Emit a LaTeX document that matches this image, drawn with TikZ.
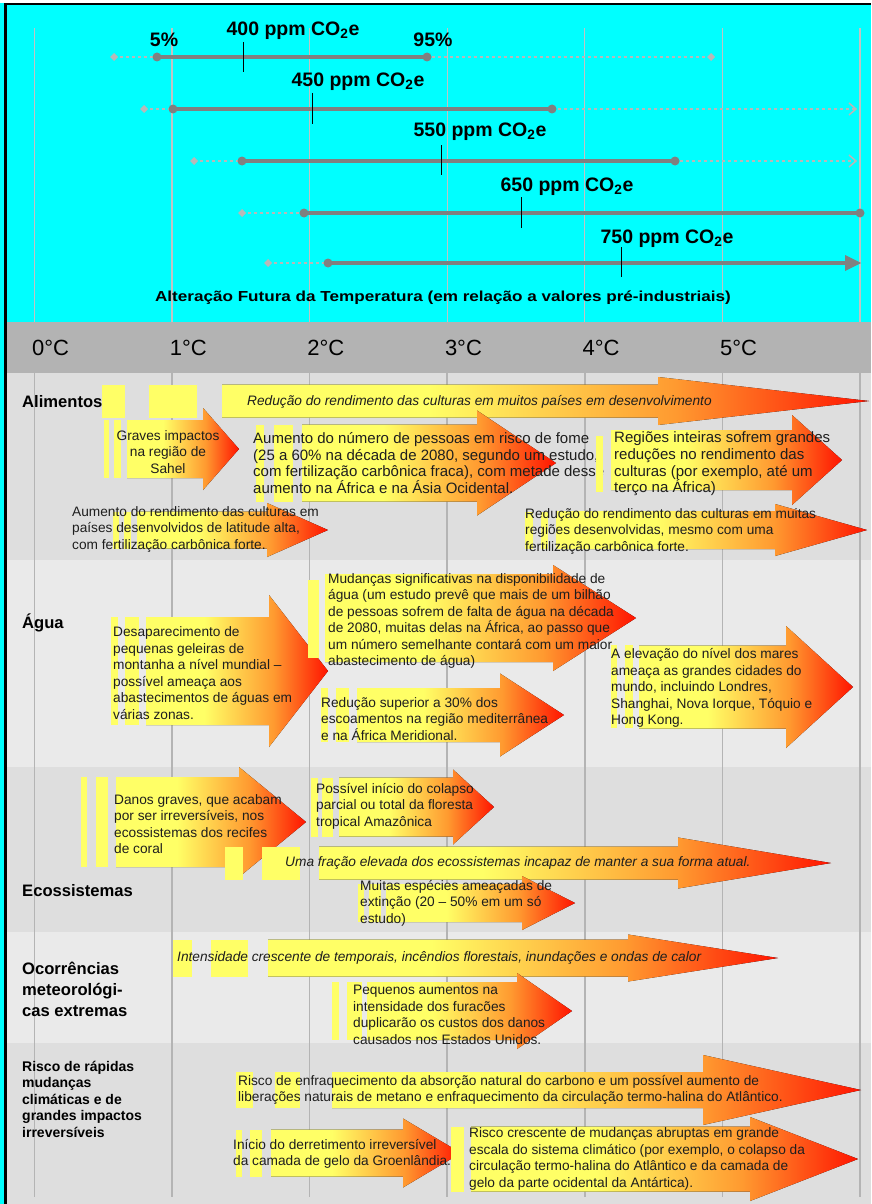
\documentclass[tikz,border=0pt]{standalone}
\usepackage{fontspec}
\setmainfont{Liberation Sans}

\definecolor{cyanbg}{HTML}{00FFFF}
\definecolor{axisgray}{HTML}{B3B3B3}
\definecolor{rowdark}{HTML}{DEDEDE}
\definecolor{rowlight}{HTML}{EAEAEA}
\definecolor{gridgray}{HTML}{B4B4B4}
\definecolor{bargray}{HTML}{808080}
\definecolor{dotgray}{HTML}{B8B8B8}
\definecolor{fadeyellow}{HTML}{FFFF66}
\definecolor{fadeorange}{HTML}{FF9A30}
\definecolor{fadered}{HTML}{FF1400}
\definecolor{txtgray}{HTML}{1E1E1E}

\pgfdeclarehorizontalshading{arrowfade}{100bp}{color(0bp)=(fadeyellow); color(25bp)=(fadeyellow); color(41bp)=(fadeyellow); color(60bp)=(fadeorange); color(75bp)=(fadered); color(100bp)=(fadered)}

\tikzset{
  sectlbl/.style={anchor=west, align=left, inner sep=0pt, font=\bfseries\fontsize{16.6}{21}\selectfont},
  bodytxt/.style={anchor=west, align=left, inner sep=0pt, text=txtgray, font=\fontsize{13.7}{16.5}\selectfont},
  bigbody/.style={bodytxt, font=\fontsize{15}{16.6}\selectfont},
  slanttxt/.style={bodytxt, font=\itshape\fontsize{13.7}{16.5}\selectfont},
  ppmlbl/.style={inner sep=0pt, font=\bfseries\fontsize{19.5}{22}\selectfont},
  deglbl/.style={anchor=west, inner sep=0pt, font=\fontsize{22}{24}\selectfont},
  yelbar/.style={fill=fadeyellow},
  rangebar/.style={bargray, line width=4pt},
  rangedot/.style={dotgray, line width=2pt, dash pattern=on 3pt off 3pt}
}

% x0, head start, tip, centre y, half shaft, half head
\newcommand{\fadearrow}[6]{%
  \fill[shading=arrowfade] (#1,#4-#5) -- (#2,#4-#5) -- (#2,#4-#6) -- (#3,#4)
    -- (#2,#4+#6) -- (#2,#4+#5) -- (#1,#4+#5) -- cycle;}
\newcommand{\ybar}[4]{\fill[yelbar] (#1,#2) rectangle (#3,#4);}
\newcommand{\diam}[2]{\fill[dotgray] (#1-4,#2) -- (#1,#2-4) -- (#1+4,#2) -- (#1,#2+4) -- cycle;}

\begin{document}
\begin{tikzpicture}[x=1pt,y=-1pt]
\useasboundingbox (0,0) rectangle (871,1204);

% frame and bands
\fill[cyanbg] (0,0) rectangle (871,1204);
\fill[white] (0,0) rectangle (871,3);
\draw[black, line width=2pt] (4,4) -- (871,4);
\draw[black, line width=3pt] (5,4) -- (5,1204);
\fill[axisgray] (7,322) rectangle (871,373);
\fill[rowdark] (7,373) rectangle (871,560);
\fill[rowlight] (7,560) rectangle (871,767);
\fill[rowdark] (7,767) rectangle (871,932);
\fill[rowlight] (7,932) rectangle (871,1043);
\fill[rowdark] (7,1043) rectangle (871,1204);

\foreach \k in {0,...,6} {
  \draw[gridgray!80, line width=1.2pt] (34.4+137.6*\k,28) -- (34.4+137.6*\k,322);
  \draw[gridgray, line width=1.5pt] (34.4+137.6*\k,373) -- (34.4+137.6*\k,1197);
}

% ranges of warming
\draw[rangedot] (114,57) -- (711,57);
\diam{114}{57} \diam{711}{57}
\draw[rangebar] (157,57) -- (427,57);
\fill[bargray] (157,57) circle (4.5) (427,57) circle (4.5);
\draw[black, line width=1pt] (243,42) -- (243,72);
\node[ppmlbl] (p5) at (164,40) {5\%};
\node[ppmlbl] (r400) at (293,31) {400 ppm CO\textsubscript{2}e};
\node[ppmlbl] (p95) at (433,40) {95\%};

\draw[rangedot] (144,109) -- (855,109);
\diam{144}{109}
\draw[dotgray, line width=1.5pt] (849,103) -- (856,109) -- (849,115);
\draw[rangebar] (173,109) -- (552,109);
\fill[bargray] (173,109) circle (4.5) (552,109) circle (4.5);
\draw[black, line width=1pt] (312,93) -- (312,124);
\node[ppmlbl] (r450) at (358,82) {450 ppm CO\textsubscript{2}e};

\draw[rangedot] (194,161) -- (855,161);
\diam{194}{161}
\draw[dotgray, line width=1.5pt] (849,155) -- (856,161) -- (849,167);
\draw[rangebar] (242,161) -- (675,161);
\fill[bargray] (242,161) circle (4.5) (675,161) circle (4.5);
\draw[black, line width=1pt] (441,145) -- (441,175);
\node[ppmlbl] (r550) at (480,132) {550 ppm CO\textsubscript{2}e};

\draw[rangedot] (242,213) -- (304,213);
\diam{242}{213}
\draw[rangebar] (304,213) -- (860,213);
\fill[bargray] (304,213) circle (4.5) (860,213) circle (4.5);
\draw[black, line width=1pt] (521,197) -- (521,228);
\node[ppmlbl] (r650) at (567,187) {650 ppm CO\textsubscript{2}e};

\draw[rangedot] (268,263) -- (328,263);
\diam{268}{263}
\draw[rangebar] (328,263) -- (848,263);
\fill[bargray] (328,263) circle (4.5) (845,255) -- (861,263) -- (845,271) -- cycle;
\draw[black, line width=1pt] (621,247) -- (621,277);
\node[ppmlbl] (r750) at (667,239) {750 ppm CO\textsubscript{2}e};

\node[inner sep=0pt, font=\bfseries\fontsize{14.5}{16}\selectfont] (axtitle) at (443,298)
  {\scalebox{1.18}[1]{Alteração Futura da Temperatura (em relação a valores pré-industriais)}};

\foreach \k in {0,...,5}
  \node[deglbl] (deg\k) at (32+137.6*\k,348) {\k°C};

% Alimentos
\node[sectlbl] (alim) at (22,402) {Alimentos};
\ybar{102}{385}{125}{418} \ybar{149}{385}{197}{418}
\fadearrow{222}{658}{869}{401}{16.5}{24}
\node[slanttxt] (a1) at (247,402) {Redução do rendimento das culturas em muitos países em desenvolvimento};
\ybar{104}{420}{109}{478} \ybar{114}{420}{121}{478}
\fadearrow{127}{203}{239}{449}{29}{41}
\node[bodytxt, anchor=center, align=center] (a2) at (168,452) {Graves impactos\\na região de\\Sahel};
\ybar{256}{425}{264}{502} \ybar{274}{425}{293}{502}
\fadearrow{302}{477}{556}{463}{38.5}{52.5}
\node[bigbody] (a3) at (253,463) {Aumento do número de pessoas em risco de fome\\(25 a 60\% na década de 2080, segundo um estudo,\\com fertilização carbônica fraca), com metade desse\\aumento na África e na Ásia Ocidental.};
\ybar{596}{436}{603}{492}
\fadearrow{611}{792}{842}{460}{30}{45}
\node[bigbody] (a4) at (614,464) {Regiões inteiras sofrem grandes\\reduções no rendimento das\\culturas (por exemplo, até um\\terço na África)};
\ybar{113}{512}{119}{549} \ybar{124}{512}{131}{549}
\fadearrow{137}{267}{328}{530}{18.5}{27}
\node[bodytxt] (a5) at (72,529) {Aumento do rendimento das culturas em\\países desenvolvidos de latitude alta,\\com fertilização carbônica forte.};
\ybar{525}{512}{533}{549} \ybar{541}{512}{548}{549}
\fadearrow{556}{775}{867}{530}{19}{26}
\node[bodytxt] (a6) at (525,531) {Redução do rendimento das culturas em muitas\\regiões desenvolvidas, mesmo com uma\\fertilização carbônica forte.};

% Agua
\node[sectlbl] (agua) at (22,623) {Água};
\ybar{111}{617}{118}{725} \ybar{125}{617}{139}{725}
\fadearrow{146}{269}{328}{671}{54}{76}
\node[bodytxt] (w1) at (113,673) {Desaparecimento de\\pequenas geleiras de\\montanha a nível mundial –\\possível ameaça aos\\abastecimentos de águas em\\várias zonas.};
\ybar{308}{580}{319}{658}
\fadearrow{325}{553}{636}{618}{44}{53}
\node[bodytxt] (w2) at (328,621) {Mudanças significativas na disponibilidade de\\água (um estudo prevê que mais de um bilhão\\de pessoas sofrem de falta de água na década\\de 2080, muitas delas na África, ao passo que\\um número semelhante contará com um maior\\abastecimento de água)};
\ybar{321}{688}{328}{742} \ybar{336}{688}{349}{742}
\fadearrow{357}{500}{564}{715}{27}{41.5}
\node[bodytxt] (w3) at (321,719) {Redução superior a 30\% dos\\escoamentos na região mediterrânea\\e na África Meridional.};
\ybar{611}{645}{617}{728} \ybar{625}{645}{633}{728}
\fadearrow{639}{786}{853}{687}{41.5}{61}
\node[bodytxt] (w4) at (611,688) {A elevação do nível dos mares\\ameaça as grandes cidades do\\mundo, incluindo Londres,\\Shanghai, Nova Iorque, Tóquio e\\Hong Kong.};

% Ecossistemas
\node[sectlbl] (ecos) at (22,891) {Ecossistemas};
\ybar{81}{777}{87}{867} \ybar{96}{777}{108}{867}
\fadearrow{116}{239}{306}{822}{45}{55}
\node[bodytxt] (e1) at (114,824) {Danos graves, que acabam\\por ser irreversíveis, nos\\ecossistemas dos recifes\\de coral};
\ybar{311}{778}{318}{837} \ybar{322}{778}{333}{837}
\fadearrow{339}{453}{494}{807}{29.5}{37.5}
\node[bodytxt] (e2) at (316,806) {Possível início do colapso\\parcial ou total da floresta\\tropical Amazônica};
\ybar{225}{847}{243}{880} \ybar{262}{847}{300}{880}
\fadearrow{319}{678}{831}{863}{16.5}{25.5}
\node[slanttxt] (e3) at (285,863) {Uma fração elevada dos ecossistemas incapaz de manter a sua forma atual.};
\ybar{358}{884}{364}{922} \ybar{369}{884}{381}{922}
\fadearrow{386}{522}{575}{903}{19}{27}
\node[bodytxt] (e4) at (360,903) {Muitas espécies ameaçadas de\\extinção (20 – 50\% em um só\\estudo)};

% Ocorrencias
\node[sectlbl] (ocorr) at (22,989) {Ocorrências\\meteorológi-\\cas extremas};
\ybar{173}{940}{192}{977} \ybar{211}{940}{248}{977}
\fadearrow{268}{628}{778}{958}{18.5}{23.5}
\node[slanttxt] (o1) at (177,958) {Intensidade crescente de temporais, incêndios florestais, inundações e ondas de calor};
\ybar{332}{982}{339}{1040} \ybar{347}{982}{362}{1040}
\fadearrow{367}{517}{572}{1011}{29}{38}
\node[bodytxt] (o2) at (353,1015) {Pequenos aumentos na\\intensidade dos furacões\\duplicarão os custos dos danos\\causados nos Estados Unidos.};

% Risco
\node[sectlbl, font=\bfseries\fontsize{14}{16.5}\selectfont] (risco) at (22,1099) {Risco de rápidas\\mudanças\\climáticas e de\\grandes impactos\\irreversíveis};
\ybar{236}{1072}{253}{1108} \ybar{275}{1072}{300}{1108}
\fadearrow{332}{703}{861}{1090}{18}{35}
\node[bodytxt] (r1) at (238,1090) {Risco de enfraquecimento da absorção natural do carbono e um possível aumento de\\liberações naturais de metano e enfraquecimento da circulação termo-halina do Atlântico.};
\ybar{236}{1130}{242}{1177} \ybar{250}{1130}{262}{1177}
\fadearrow{271}{403}{461}{1153}{23.5}{34.5}
\node[bodytxt] (r2) at (233,1154) {Início do derretimento irreversível\\da camada de gelo da Groenlândia.};
\ybar{451}{1127}{464}{1192}
\fadearrow{471}{750}{858}{1159}{32.5}{42}
\node[bodytxt] (r3) at (469,1159) {Risco crescente de mudanças abruptas em grande\\escala do sistema climático (por exemplo, o colapso da\\circulação termo-halina do Atlântico e da camada de\\gelo da parte ocidental da Antártica).};

\end{tikzpicture}
\end{document}
